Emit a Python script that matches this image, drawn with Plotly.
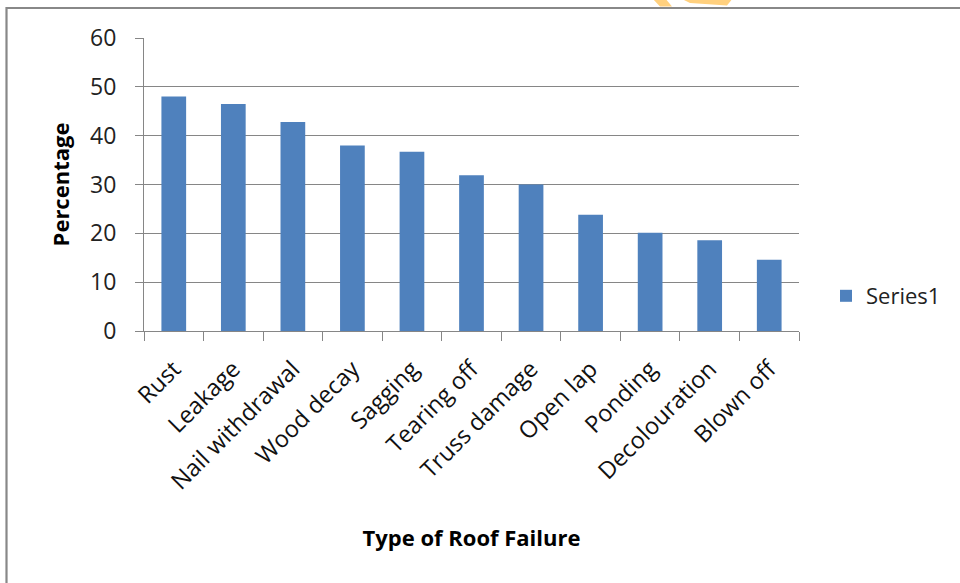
import plotly.graph_objects as go

# Roof failure types and share of surveyed roofs (%)
categories = ["Rust", "Leakage", "Nail withdrawal", "Wood decay", "Sagging",
              "Tearing off", "Truss damage", "Open lap", "Ponding",
              "Decolouration", "Blown off"]
percentages = [48.0, 46.5, 42.8, 38.0, 36.7, 31.9, 30.0, 23.8, 20.1, 18.6, 14.6]
series_name = "Series1"

W, H = 960, 583
ML, MR, MT, MB = 144, 161, 38, 252
PW, PH = W - ML - MR, H - MT - MB

def px(x):
    return (x - ML) / PW

def py(y):
    return (H - MB - y) / PH

FONT = "Open Sans"
GRID = "#868686"

fig = go.Figure(go.Bar(
    x=categories, y=percentages, name=series_name,
    marker=dict(color="#4F81BD", line=dict(width=0)),
    showlegend=True,
))

shapes = [
    # decorative orange mark peeking in at the top edge
    dict(type="path", xref="paper", yref="paper", layer="above",
         path=f"M{px(652)},{py(-2)} L{px(665)},{py(-2)} L{px(672)},{py(6.5)} L{px(660)},{py(6.5)} Z",
         fillcolor="#FFD07E", line=dict(width=0)),
    dict(type="path", xref="paper", yref="paper", layer="above",
         path=f"M{px(680)},{py(-2)} L{px(733)},{py(-2)} L{px(727)},{py(5.5)} L{px(690)},{py(3)} Z",
         fillcolor="#FFD07E", line=dict(width=0)),
    # outer chart frame
    dict(type="rect", xref="paper", yref="paper", layer="above",
         x0=px(6.5), x1=px(975), y0=py(598), y1=py(8),
         line=dict(color="#888888", width=2.2), fillcolor="rgba(0,0,0,0)"),
]

fig.update_layout(
    width=W, height=H,
    margin=dict(l=ML, r=MR, t=MT, b=MB, pad=0),
    paper_bgcolor="white", plot_bgcolor="white",
    font=dict(family=FONT, size=22, color="#000000"),
    bargap=0.585,
    shapes=shapes,
    legend=dict(x=px(826), y=py(296), xanchor="left", yanchor="middle",
                font=dict(family=FONT, size=22, color="#222222"),
                bgcolor="rgba(0,0,0,0)", itemwidth=30),
    xaxis=dict(
        type="category", tickson="boundaries",
        ticks="outside", ticklen=9, tickcolor=GRID, tickwidth=1,
        showline=True, linecolor=GRID, linewidth=1,
        showgrid=False, tickangle=-45, ticklabelstandoff=14,
        tickfont=dict(family=FONT, size=23.5, color="#111111"),
        title=dict(text="<b>Type of Roof Failure</b>", standoff=35,
                   font=dict(family=FONT, size=22, color="#000000")),
    ),
    yaxis=dict(
        range=[0, 60], dtick=10, tick0=0,
        ticks="outside", ticklen=8, tickcolor=GRID, tickwidth=1,
        showline=True, linecolor=GRID, linewidth=1,
        showgrid=True, gridcolor=GRID, gridwidth=1,
        zeroline=False, ticklabelstandoff=14,
        tickfont=dict(family=FONT, size=23, color="#222222"),
        title=dict(text="<b>Percentage</b>", standoff=14,
                   font=dict(family=FONT, size=22, color="#000000")),
    ),
)

fig.write_html("out.html")
